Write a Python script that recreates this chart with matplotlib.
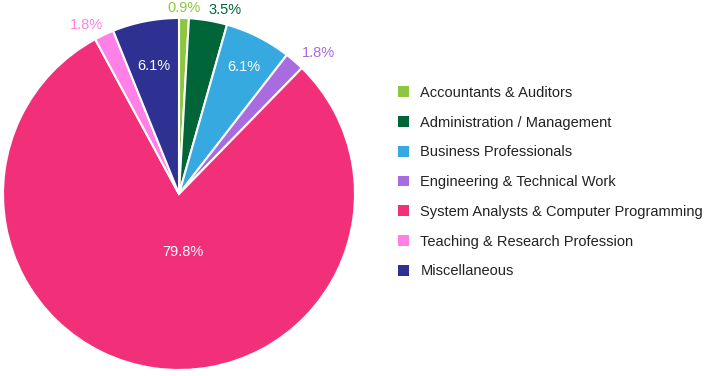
import numpy as np
import matplotlib
matplotlib.use("Agg")
import matplotlib.pyplot as plt
from matplotlib.patches import Patch

categories = ["Accountants & Auditors", "Administration / Management", "Business Professionals",
              "Engineering & Technical Work", "System Analysts & Computer Programming",
              "Teaching & Research Profession", "Miscellaneous"]
values = [0.9, 3.5, 6.1, 1.8, 79.8, 1.8, 6.1]
colors = ["#8dc63f", "#00663a", "#36a9e1", "#a86be0", "#f2307a", "#ff80e6", "#2e3192"]

plt.rcParams['font.family'] = ['Liberation Sans', 'DejaVu Sans']

fig = plt.figure(figsize=(7.06, 3.76), dpi=100)
ax = fig.add_axes([3 / 706, 6 / 376, 352 / 706, 352 / 376])
wedges, _ = ax.pie(values, colors=colors, startangle=90, counterclock=False,
                   wedgeprops=dict(edgecolor="white", linewidth=1.5))
ax.set_xlim(-1, 1)
ax.set_ylim(-1, 1)
ax.set_aspect("equal")
ax.axis("off")

for w, v, c in zip(wedges, values, colors):
    ang = np.deg2rad((w.theta1 + w.theta2) / 2)
    txt = f"{v:.1f}%"
    if v < 5:
        # small slices: label outside in the slice colour
        cx, cy = np.cos(ang), np.sin(ang)
        if cy > 0.9:
            r, va = 1.02, "bottom"
        else:
            r, va = 1.06, "center"
        x, y = r * cx, r * cy
        ha = "left" if x > 0.1 else ("right" if x < -0.1 else "center")
        ax.text(x, y, txt, color=c, fontsize=10.5, ha=ha, va=va)
    elif v > 50:
        ax.text(0.02, -0.33, txt, color="white", fontsize=10.5, ha="center", va="center")
    else:
        r = 0.81 if np.cos(ang) > 0 else 0.74
        x, y = r * np.cos(ang), r * np.sin(ang)
        ax.text(x, y, txt, color="white", fontsize=10.5, ha="center", va="center")

handles = [Patch(facecolor=c, edgecolor="none") for c in colors]
fig.legend(handles, categories, loc="upper left", bbox_to_anchor=(392 / 706, 1 - 80 / 376),
           frameon=False, fontsize=10.5, handlelength=0.75, handleheight=0.75,
           handletextpad=0.8, labelspacing=1.08, borderaxespad=0,
           labelcolor="#222222")

fig.savefig("out.png", dpi=100)
